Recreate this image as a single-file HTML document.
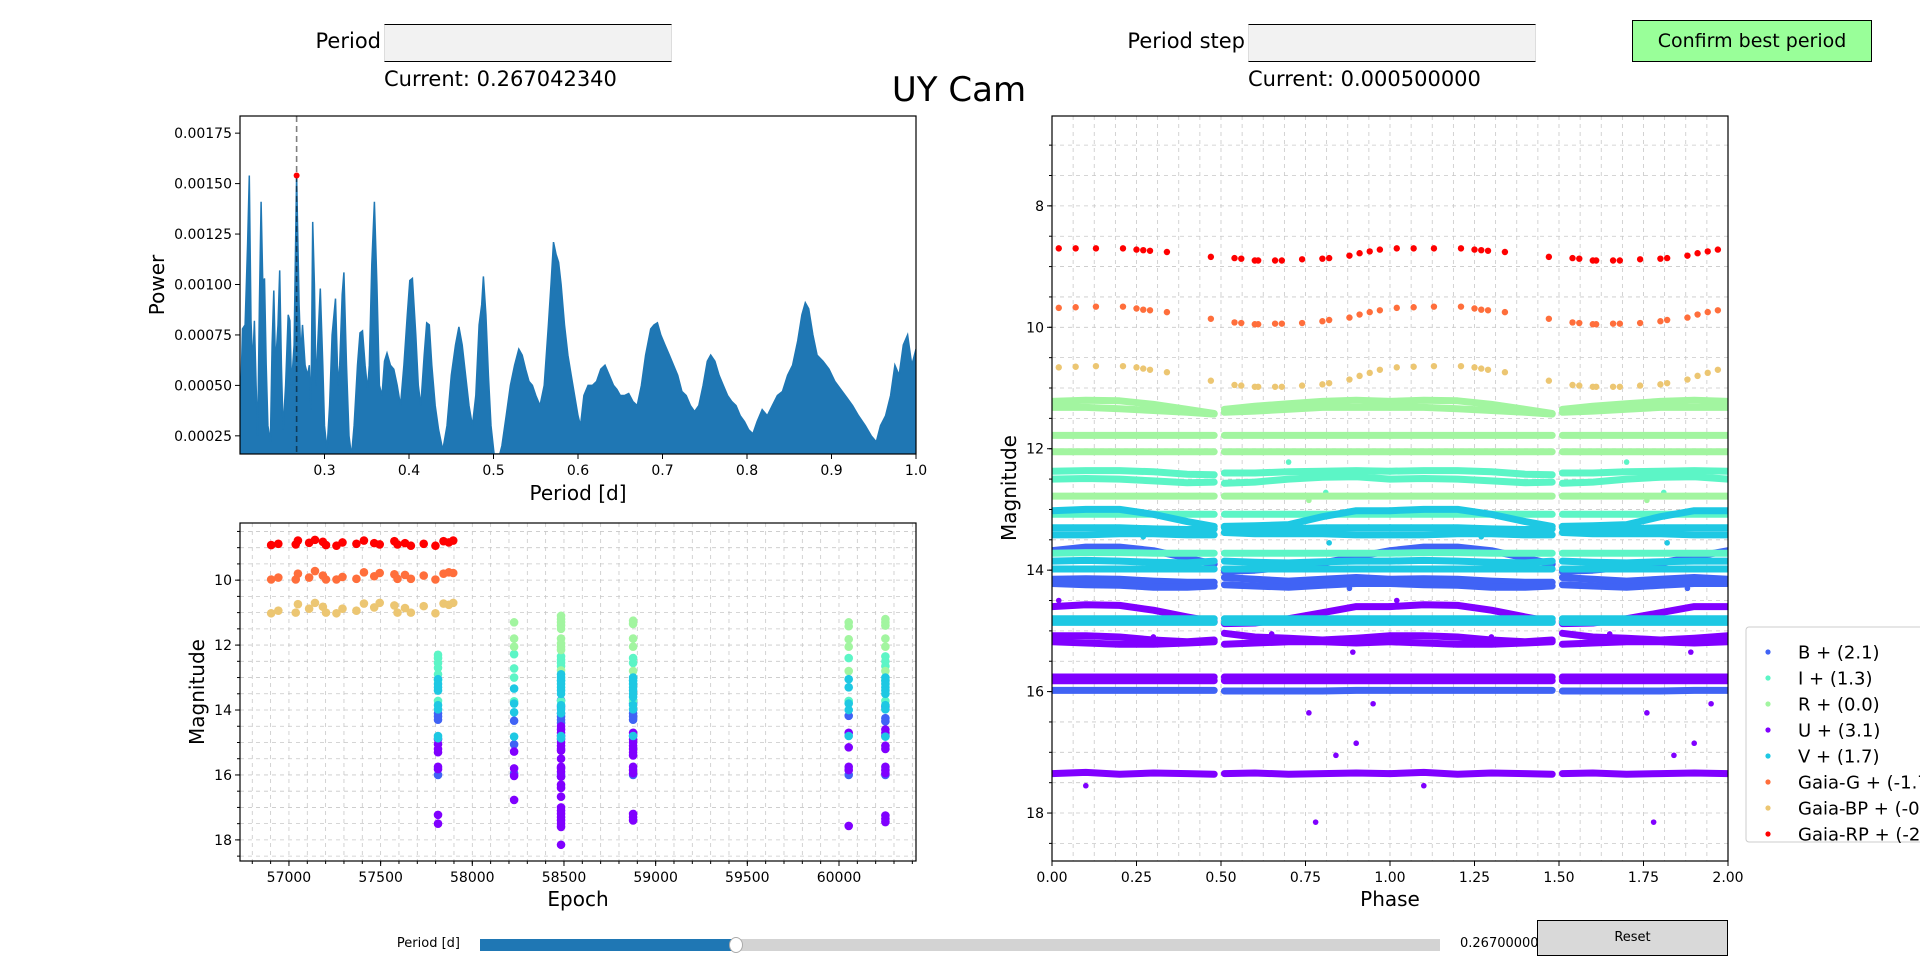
<!DOCTYPE html>
<html><head><meta charset="utf-8">
<style>
body{margin:0;background:#fff;width:1920px;height:967px;overflow:hidden;font-family:"DejaVu Sans","Liberation Sans",sans-serif;}
#wrap{position:relative;width:1920px;height:967px;}
.lbl{position:absolute;font-size:21px;color:#000;white-space:nowrap;}
.box{position:absolute;background:#f2f2f2;border-top:1.5px solid #000;border-bottom:1.5px solid #000;border-left:1px solid #ddd;border-right:1px solid #ddd;box-sizing:border-box;}
svg{position:absolute;left:0;top:0;}
</style></head>
<body><div id="wrap">
<div class="lbl" style="right:1539px;top:29px;">Period</div>
<div class="box" style="left:384px;top:24px;width:288px;height:38px;"></div>
<div class="lbl" style="left:384px;top:67px;">Current: 0.267042340</div>
<div class="lbl" style="right:675px;top:29px;">Period step</div>
<div class="box" style="left:1248px;top:24px;width:288px;height:38px;"></div>
<div class="lbl" style="left:1248px;top:67px;">Current: 0.000500000</div>
<div style="position:absolute;left:1632px;top:20px;width:240px;height:42px;background:#99ff99;border:1px solid #000;box-sizing:border-box;font-size:19px;line-height:40px;text-align:center;">Confirm best period</div>
<div class="lbl" style="left:0;width:1918px;text-align:center;top:70px;font-size:34px;">UY Cam</div>
<div class="lbl" style="right:1460px;top:936px;font-size:13px;">Period [d]</div>
<div style="position:absolute;left:480px;top:939px;width:960px;height:12px;background:#d3d3d3;"></div>
<div style="position:absolute;left:480px;top:939px;width:256px;height:12px;background:#1f77b4;"></div>
<div style="position:absolute;left:729px;top:937px;width:14px;height:16px;background:#fff;border:1px solid #aaa;border-radius:50%;box-sizing:border-box;"></div>
<div class="lbl" style="left:1460px;top:936px;font-size:13px;">0.26700000</div>
<div style="position:absolute;left:1537px;top:920px;width:191px;height:36px;background:#d9d9d9;border:1px solid #000;box-sizing:border-box;font-size:13px;line-height:34px;text-align:center;">Reset</div>
<svg id="svg" width="1920" height="967" xmlns="http://www.w3.org/2000/svg" style="pointer-events:none"></svg>
</div>
<script>
// ---------- Periodogram data ----------
const periods=[0.200,0.203,0.206,0.209,0.211,0.213,0.215,0.217,0.219,0.221,0.223,0.225,0.227,0.229,0.231,0.233,0.236,0.238,0.240,0.242,0.245,0.247,0.249,0.251,0.254,0.257,0.259,0.261,0.264,0.267,0.270,0.272,0.274,0.277,0.280,0.282,0.284,0.286,0.288,0.290,0.292,0.295,0.298,0.300,0.303,0.306,0.309,0.313,0.316,0.318,0.321,0.323,0.326,0.329,0.332,0.335,0.339,0.342,0.345,0.348,0.351,0.353,0.356,0.359,0.362,0.365,0.368,0.371,0.374,0.378,0.382,0.386,0.390,0.394,0.398,0.401,0.404,0.408,0.411,0.414,0.418,0.421,0.424,0.427,0.431,0.435,0.440,0.445,0.450,0.455,0.459,0.463,0.467,0.471,0.475,0.479,0.483,0.486,0.488,0.491,0.494,0.497,0.501,0.505,0.510,0.515,0.520,0.525,0.530,0.534,0.538,0.542,0.546,0.550,0.555,0.560,0.565,0.568,0.571,0.574,0.577,0.580,0.584,0.588,0.592,0.596,0.600,0.603,0.607,0.612,0.617,0.622,0.627,0.632,0.637,0.642,0.646,0.650,0.655,0.660,0.665,0.670,0.675,0.680,0.686,0.690,0.694,0.698,0.703,0.708,0.713,0.718,0.723,0.728,0.733,0.738,0.743,0.748,0.753,0.757,0.762,0.767,0.772,0.777,0.782,0.787,0.792,0.797,0.802,0.807,0.812,0.818,0.824,0.830,0.836,0.842,0.848,0.854,0.860,0.865,0.869,0.873,0.878,0.883,0.890,0.897,0.904,0.911,0.918,0.925,0.932,0.940,0.947,0.953,0.958,0.964,0.970,0.975,0.980,0.985,0.990,0.995,1.000];
const powers=[0.00030,0.00078,0.00080,0.00120,0.00154,0.00082,0.00060,0.00082,0.00050,0.00025,0.00090,0.00141,0.00100,0.00103,0.00060,0.00030,0.00022,0.00070,0.00097,0.00060,0.00080,0.00107,0.00060,0.00028,0.00050,0.00085,0.00082,0.00050,0.00070,0.00154,0.00090,0.00065,0.00080,0.00060,0.00055,0.00060,0.00038,0.00131,0.00100,0.00050,0.00070,0.00098,0.00060,0.00030,0.00018,0.00040,0.00075,0.00093,0.00050,0.00060,0.00095,0.00106,0.00060,0.00025,0.00015,0.00030,0.00060,0.00076,0.00077,0.00060,0.00048,0.00060,0.00110,0.00141,0.00100,0.00050,0.00045,0.00062,0.00066,0.00060,0.00058,0.00050,0.00040,0.00060,0.00085,0.00102,0.00103,0.00075,0.00050,0.00040,0.00065,0.00081,0.00080,0.00060,0.00040,0.00028,0.00018,0.00030,0.00055,0.00070,0.00079,0.00070,0.00055,0.00040,0.00030,0.00045,0.00080,0.00090,0.00104,0.00085,0.00055,0.00030,0.00015,0.00012,0.00020,0.00035,0.00050,0.00060,0.00068,0.00065,0.00058,0.00052,0.00050,0.00045,0.00040,0.00050,0.00080,0.00100,0.00121,0.00115,0.00111,0.00100,0.00080,0.00065,0.00055,0.00045,0.00035,0.00030,0.00045,0.00050,0.00050,0.00052,0.00058,0.00060,0.00055,0.00050,0.00048,0.00045,0.00045,0.00046,0.00042,0.00040,0.00050,0.00065,0.00078,0.00080,0.00081,0.00075,0.00070,0.00065,0.00060,0.00055,0.00047,0.00045,0.00040,0.00037,0.00040,0.00050,0.00062,0.00065,0.00062,0.00055,0.00050,0.00045,0.00042,0.00040,0.00035,0.00032,0.00028,0.00026,0.00032,0.00038,0.00035,0.00040,0.00045,0.00047,0.00055,0.00060,0.00072,0.00085,0.00091,0.00088,0.00075,0.00065,0.00062,0.00058,0.00052,0.00048,0.00044,0.00040,0.00035,0.00030,0.00025,0.00022,0.00030,0.00035,0.00045,0.00060,0.00055,0.00070,0.00075,0.00060,0.00068];
const bestPeriod=0.267, bestPower=0.00154;
const pgXTicks=[0.3,0.4,0.5,0.6,0.7,0.8,0.9,1.0];
const pgYTicks=[0.00025,0.0005,0.00075,0.001,0.00125,0.0015,0.00175];

// ---------- Epoch plot data ----------
const gaiaEpochs=[56903,56942,57037,57049,57110,57142,57185,57202,57259,57292,57368,57409,57465,57495,57575,57592,57633,57665,57735,57799,57843,57872,57896];
const gaiaRP=[8.92,8.88,8.90,8.78,8.85,8.76,8.82,8.92,8.94,8.84,8.88,8.78,8.86,8.90,8.80,8.90,8.86,8.94,8.88,8.94,8.80,8.84,8.78];
const gaiaG=[9.98,9.92,9.98,9.80,9.92,9.72,9.86,9.98,9.98,9.90,9.96,9.76,9.88,9.78,9.82,9.96,9.84,9.96,9.86,9.98,9.80,9.76,9.78];
const gaiaBP=[11.02,10.94,11.00,10.74,10.88,10.70,10.82,11.00,11.02,10.88,10.94,10.72,10.84,10.70,10.78,11.00,10.86,11.00,10.80,11.02,10.72,10.76,10.70];
const colEpochs=[57813,58228,58484,58877,60053,60253];
const rMags=[[],[11.3,11.8,12.05],[11.1,11.2,11.3,11.4,11.5,11.8,11.95,12.05,12.15,12.78],[11.25,11.35,11.8,12.05,12.8],[11.3,11.42,11.82,12.05,12.8],[11.2,11.3,11.4,11.8,12.05,12.8]];
const iMags=[[12.3,12.4,12.55,12.7,12.9,13.08,13.72],[12.28,12.72,13.0,13.73],[12.35,12.45,12.55,12.65,13.08,13.72],[12.4,12.55,13.08,13.72],[12.4,13.72],[12.35,12.5,12.65,13.08,13.72]];
const vMags=[[13.05,13.2,13.3,13.4,13.85,13.98,14.8,14.87],[13.34,13.8,14.07,14.82],[12.9,13.0,13.1,13.2,13.3,13.4,13.5,13.85,13.98,14.1,14.8,14.87],[13.0,13.1,13.2,13.3,13.4,13.5,13.6,13.85,13.98,14.8],[13.05,13.3,13.8,14.0,14.8],[13.0,13.1,13.2,13.3,13.4,13.5,13.85,13.98,14.82]];
const bMags=[[14.1,14.2,14.3,16.0],[14.33,15.06,15.95],[13.7,13.9,14.1,14.2,14.3,14.4,15.98,16.05],[13.8,14.1,14.2,14.3,16.0],[14.18,16.0],[13.9,14.25,14.35,16.0]];
const uMags=[[14.9,15.05,15.2,15.3,15.75,15.82,17.23,17.5],[15.28,15.8,16.03,16.77],[14.5,14.6,14.7,14.8,14.9,15.0,15.1,15.2,15.25,15.5,15.75,15.8,15.9,16.05,16.3,16.4,16.67,17.0,17.1,17.2,17.3,17.4,17.5,17.6,18.15],[14.7,14.8,14.9,15.0,15.1,15.2,15.3,15.4,15.75,15.85,15.95,17.2,17.3,17.4],[14.7,15.15,15.75,15.85,17.57],[14.6,14.7,14.8,15.1,15.2,15.75,15.85,15.95,17.25,17.35,17.45]];
const epXTicks=[57000,57500,58000,58500,59000,59500,60000];
const magTicks=[10,12,14,16,18];

// ---------- Phase plot data ----------
const gaiaPhases=[0.02,0.07,0.13,0.21,0.25,0.27,0.29,0.34,0.47,0.54,0.56,0.60,0.61,0.66,0.68,0.74,0.80,0.82,0.88,0.91,0.94,0.97];
const phRP=[8.70,8.70,8.70,8.70,8.72,8.73,8.74,8.76,8.84,8.86,8.87,8.90,8.90,8.90,8.90,8.88,8.87,8.86,8.82,8.78,8.75,8.72];
const phG=[9.68,9.67,9.66,9.66,9.69,9.71,9.72,9.75,9.86,9.92,9.93,9.95,9.95,9.94,9.94,9.93,9.90,9.88,9.84,9.79,9.75,9.72];
const phBP=[10.66,10.65,10.64,10.64,10.66,10.68,10.70,10.74,10.88,10.95,10.96,10.98,10.98,10.98,10.98,10.96,10.94,10.92,10.86,10.80,10.75,10.70];
const trackPhases=[0,0.1,0.2,0.3,0.4,0.48,0.51,0.6,0.7,0.8,0.9,1.0];
const trackBands=['B','B','B','B','I','I','I','I','R','R','R','R','R','U','U','U','U','U','U','V','V','V','V','V','V','V'];
const trackMags=[
[13.68,13.62,13.62,13.68,13.80,13.90,14.02,14.00,13.95,13.88,13.78,13.68],
[14.15,14.14,14.15,14.18,14.20,14.20,14.12,14.15,14.18,14.15,14.12,14.15],
[14.22,14.24,14.25,14.28,14.28,14.26,14.24,14.26,14.28,14.25,14.22,14.22],
[15.98,15.98,15.98,15.98,15.98,15.98,15.99,15.99,15.99,15.99,15.98,15.98],
[12.37,12.36,12.36,12.38,12.42,12.43,12.40,12.40,12.38,12.37,12.36,12.37],
[12.50,12.49,12.50,12.53,12.56,12.55,12.57,12.55,12.50,12.47,12.46,12.50],
[13.08,13.08,13.08,13.08,13.08,13.08,13.08,13.08,13.08,13.08,13.08,13.08],
[13.72,13.71,13.71,13.72,13.72,13.72,13.72,13.72,13.72,13.72,13.72,13.72],
[11.22,11.20,11.21,11.27,11.35,11.42,11.35,11.30,11.26,11.22,11.20,11.22],
[11.32,11.32,11.34,11.37,11.40,11.43,11.40,11.38,11.35,11.32,11.32,11.32],
[11.78,11.78,11.78,11.78,11.78,11.78,11.78,11.78,11.78,11.78,11.78,11.78],
[12.05,12.05,12.05,12.05,12.05,12.05,12.05,12.05,12.05,12.05,12.05,12.05],
[12.78,12.78,12.78,12.78,12.78,12.78,12.78,12.78,12.78,12.78,12.78,12.78],
[14.60,14.57,14.58,14.66,14.77,14.85,14.88,14.87,14.80,14.70,14.60,14.60],
[15.08,15.08,15.10,15.15,15.18,15.15,15.04,15.10,15.12,15.15,15.12,15.08],
[15.18,15.20,15.22,15.22,15.20,15.18,15.22,15.20,15.18,15.18,15.20,15.18],
[15.76,15.76,15.76,15.76,15.76,15.76,15.76,15.76,15.76,15.76,15.76,15.76],
[15.82,15.82,15.82,15.82,15.82,15.82,15.82,15.82,15.82,15.82,15.82,15.82],
[17.35,17.33,17.36,17.34,17.35,17.36,17.35,17.34,17.36,17.35,17.34,17.35],
[13.02,13.00,13.00,13.08,13.20,13.28,13.28,13.27,13.25,13.12,13.02,13.02],
[13.30,13.30,13.30,13.32,13.33,13.32,13.30,13.32,13.32,13.30,13.30,13.30],
[13.42,13.42,13.40,13.40,13.42,13.42,13.38,13.40,13.40,13.40,13.42,13.42],
[13.85,13.84,13.85,13.87,13.88,13.85,13.85,13.87,13.88,13.86,13.85,13.85],
[13.98,13.98,13.98,13.98,13.98,13.98,13.98,13.98,13.98,13.98,13.98,13.98],
[14.80,14.80,14.80,14.80,14.80,14.80,14.80,14.80,14.80,14.80,14.80,14.80],
[14.86,14.86,14.86,14.86,14.86,14.86,14.86,14.86,14.86,14.86,14.86,14.86]];
const outBands=['U','U','U','U','U','U','U','B','B','V','V','I','I','R','U','U','U'];
const outPhases=[0.02,0.10,0.78,0.30,0.76,0.84,0.95,0.62,0.88,0.27,0.82,0.70,0.81,0.76,0.89,0.90,0.65];
const outMags=[14.50,17.55,18.15,15.10,16.35,17.05,16.20,14.25,14.30,13.45,13.55,12.22,12.72,12.85,15.35,16.85,15.05];
const phXTicks=[0,0.25,0.5,0.75,1.0,1.25,1.5,1.75,2.0];

const bandColor={B:'#4063f5',I:'#5cf5c6',R:'#a2f5a0',U:'#8000ff',V:'#1ec8e3',G:'#ff6e3b',BP:'#ecc672',RP:'#ff0000'};
const legendLabels=['B + (2.1)','I + (1.3)','R + (0.0)','U + (3.1)','V + (1.7)','Gaia-G + (-1.7)','Gaia-BP + (-0.8)','Gaia-RP + (-2.5)'];
const legendBands=['B','I','R','U','V','G','BP','RP'];

// ---------- helpers ----------
const NS='http://www.w3.org/2000/svg';
const svg=document.getElementById('svg');
function lin(d0,d1,r0,r1){return v=>r0+(v-d0)/(d1-d0)*(r1-r0);}
function el(tag,attrs,parent){const e=document.createElementNS(NS,tag);for(const k in attrs)e.setAttribute(k,attrs[k]);(parent||svg).appendChild(e);return e;}
function txt(x,y,s,size,anchor,parent,rot){const t=el('text',{x:x,y:y,'font-size':size,'text-anchor':anchor||'middle','font-family':'DejaVu Sans, Liberation Sans, sans-serif',fill:'#000'},parent);if(rot)t.setAttribute('transform','rotate(-90 '+x+' '+y+')');t.textContent=s;return t;}
function clip(id,x,y,w,h){const d=el('clipPath',{id:id});el('rect',{x:x,y:y,width:w,height:h},d);}

// ---------- Periodogram ----------
(function(){
const L=240,R=916,T=116,B=454;
const px=lin(0.2,1.0,L,R), py=lin(0.00016,0.001835,B,T);
clip('cpg',L,T,R-L,B-T);
const g=el('g',{'clip-path':'url(#cpg)'});

let d='M'+px(periods[0])+' '+B;
for(let i=0;i<periods.length;i++) d+=' L'+px(periods[i]).toFixed(1)+' '+py(powers[i]).toFixed(1);
d+=' L'+px(periods[periods.length-1])+' '+B+' Z';
const area=el('path',{d:d,fill:'#1f77b4',stroke:'#1f77b4','stroke-width':1.5},g);


const vl=el('line',{x1:px(bestPeriod),x2:px(bestPeriod),y1:T,y2:B,stroke:'#000','stroke-opacity':0.5,'stroke-width':1.6,'stroke-dasharray':'6,4'},g);


const dot=el('circle',{cx:px(bestPeriod),cy:py(bestPower),r:3,fill:'#ff0000'},g);


el('rect',{x:L,y:T,width:R-L,height:B-T,fill:'none',stroke:'#000','stroke-width':1.2});
pgXTicks.forEach(v=>{const x=px(v);el('line',{x1:x,x2:x,y1:B,y2:B+5,stroke:'#000'});const t=txt(x,B+21,v.toFixed(1),14);});
pgYTicks.forEach(v=>{const y=py(v);el('line',{x1:L-5,x2:L,y1:y,y2:y,stroke:'#000'});const t=txt(L-8,y+5,v.toFixed(5),14,'end');});
const xl=txt((L+R)/2,500,'Period [d]',20);
const yl=txt(164,285,'Power',20,'middle',null,true);
})();

function grid(L,R,T,B,xs,ys){
 xs.forEach(x=>el('line',{x1:x,x2:x,y1:T,y2:B,stroke:'#c8c8c8','stroke-width':0.8,'stroke-dasharray':'4,4'}));
 ys.forEach(y=>el('line',{x1:L,x2:R,y1:y,y2:y,stroke:'#c8c8c8','stroke-width':0.8,'stroke-dasharray':'4,4'}));
}

// ---------- Epoch plot ----------
(function(){
const L=240,R=916,T=523,B=861;
const ex=lin(56733,60420,L,R), ey=lin(8.24,18.65,T,B);
const gx=[],gy=[];
for(let e=56800;e<=60400;e+=100)gx.push(ex(e));
for(let m=8.5;m<=18.5;m+=0.5)gy.push(ey(m));
grid(L,R,T,B,gx,gy);
clip('cep',L,T,R-L,B-T);
const g=el('g',{'clip-path':'url(#cep)'});

function col(mags,band){mags.forEach((arr,ci)=>arr.forEach(m=>{const c=el('circle',{cx:ex(colEpochs[ci]),cy:ey(m),r:4.3,fill:bandColor[band]},g);}));}
col(bMags,'B');col(iMags,'I');col(rMags,'R');col(uMags,'U');col(vMags,'V');
function gaia(arr,band){arr.forEach((m,i)=>{const c=el('circle',{cx:ex(gaiaEpochs[i]),cy:ey(m),r:4.3,fill:bandColor[band]},g);});}
gaia(gaiaG,'G');gaia(gaiaBP,'BP');gaia(gaiaRP,'RP');
el('rect',{x:L,y:T,width:R-L,height:B-T,fill:'none',stroke:'#000','stroke-width':1.2});
for(let e=56800;e<=60400;e+=100){const x=ex(e);el('line',{x1:x,x2:x,y1:B,y2:B+3,stroke:'#000'});}
epXTicks.forEach(v=>{const x=ex(v);el('line',{x1:x,x2:x,y1:B,y2:B+5,stroke:'#000'});const t=txt(x,B+21,String(v),14);});
for(let m=8.5;m<=18.5;m+=0.5){const y=ey(m);el('line',{x1:L-3,x2:L,y1:y,y2:y,stroke:'#000'});}
magTicks.forEach(v=>{const y=ey(v);el('line',{x1:L-5,x2:L,y1:y,y2:y,stroke:'#000'});const t=txt(L-8,y+5,String(v),14,'end');});
const xl=txt((L+R)/2,906,'Epoch',20);
const yl=txt(204,692,'Magnitude',20,'middle',null,true);
})();

// ---------- Phase plot ----------
(function(){
const L=1052,R=1728,T=116,B=861;
const phx=lin(0,2,L,R), phy=lin(6.52,18.79,T,B);
const gx=[],gy=[];
for(let p=0.0625;p<2;p+=0.0625)gx.push(phx(p));
for(let m=7;m<=18.5;m+=0.5)gy.push(phy(m));
grid(L,R,T,B,gx,gy);
clip('cph',L,T,R-L,B-T);
const g=el('g',{'clip-path':'url(#cph)'});

const order=['B','I','R','U','V'];
order.forEach(band=>{
 trackMags.forEach((mags,ti)=>{
  if(trackBands[ti]!==band)return;
  [0,1].forEach(off=>{
   [[0,6],[6,12]].forEach(([a,b])=>{
    let d='';
    for(let i=a;i<b;i++){d+=(i===a?'M':' L')+phx(trackPhases[i]+off).toFixed(1)+' '+phy(mags[i]).toFixed(1);}
    const p=el('path',{d:d,fill:'none',stroke:bandColor[band],'stroke-width':7,'stroke-linecap':'round','stroke-linejoin':'round'},g);
    
    
   });
  });
 });
 outMags.forEach((m,i)=>{if(outBands[i]!==band)return;[0,1].forEach(off=>{const c=el('circle',{cx:phx(outPhases[i]+off),cy:phy(m),r:2.8,fill:bandColor[band]},g);});});
});
function gaia(arr,band){arr.forEach((m,i)=>{[0,1].forEach(off=>{const c=el('circle',{cx:phx(gaiaPhases[i]+off),cy:phy(m),r:3.2,fill:bandColor[band]},g);});});}
gaia(phG,'G');gaia(phBP,'BP');gaia(phRP,'RP');
el('rect',{x:L,y:T,width:R-L,height:B-T,fill:'none',stroke:'#000','stroke-width':1.2});
phXTicks.forEach(v=>{const x=phx(v);el('line',{x1:x,x2:x,y1:B,y2:B+5,stroke:'#000'});const t=txt(x,B+21,v.toFixed(2),14);});
for(let m=7;m<=18.5;m+=0.5){const y=phy(m);el('line',{x1:L-3,x2:L,y1:y,y2:y,stroke:'#000'});}
[8,10,12,14,16,18].forEach(v=>{const y=phy(v);el('line',{x1:L-5,x2:L,y1:y,y2:y,stroke:'#000'});const t=txt(L-8,y+5,String(v),14,'end');});
const xl=txt((L+R)/2,906,'Phase',20);
const yl=txt(1016,488,'Magnitude',20,'middle',null,true);
})();

// ---------- Legend ----------
(function(){
const lg=el('g',{});

el('rect',{x:1746,y:627,width:190,height:215,rx:3,fill:'#fff','fill-opacity':0.85,stroke:'#ccc','stroke-width':1},lg);
legendBands.forEach((b,i)=>{
 const y=652+i*26;
 const c=el('circle',{cx:1768,cy:y,r:2.6,fill:bandColor[b]},lg);
 
 
 const t=txt(1798,y+6.5,legendLabels[i],18,'start',lg);
 
 
});
})();
</script>
</body></html>
